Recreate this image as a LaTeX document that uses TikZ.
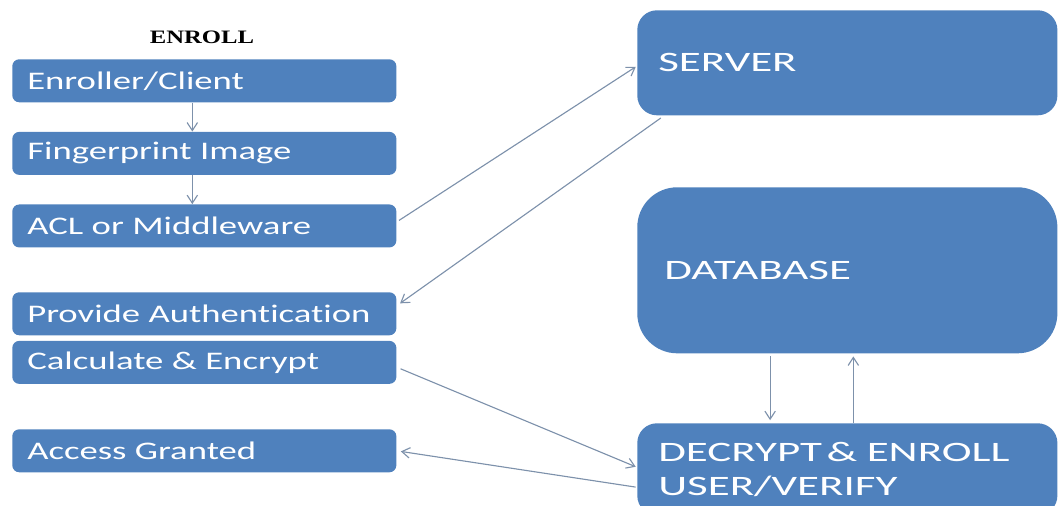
\documentclass[tikz,border=0pt]{standalone}
\usepackage{fontspec}
\setmainfont{Carlito}
\newfontfamily\boxfont[FakeStretch=1.45,RawFeature=-liga]{Carlito}
\newfontfamily\unitfont[FakeStretch=1.6,RawFeature=-liga]{Carlito}
\newfontfamily\titlefont[FakeStretch=1.3]{Liberation Serif}
\usetikzlibrary{arrows.meta,positioning}
\definecolor{Office}{HTML}{4F81BD}
\definecolor{Link}{HTML}{7D91AB}
\tikzset{
 stage/.style={fill=Office,draw=none,rounded corners=5pt,text=white,align=left,inner xsep=0.375cm,inner ysep=0pt,text width=8.85cm,minimum height=1.075cm,font=\boxfont\fontsize{18}{21}\selectfont},
 unit/.style={stage,rounded corners=14pt,inner xsep=0.525cm,text width=9.45cm,font=\unitfont\fontsize{20}{24.2}\selectfont},
 arr/.style={-{Straight Barb[length=2mm,width=2.6mm]},line width=0.8pt,draw=Link}
}
\begin{document}
\begin{tikzpicture}[x=0.025cm,y=-0.025cm,node distance=0.725cm]
\useasboundingbox (0,0) rectangle (1059,506);
\node[font=\titlefont\bfseries\fontsize{13.5}{16}\selectfont] (title) at (202,37) {ENROLL};
% client side
\node[stage,anchor=north west] (client) at (12,59) {Enroller/Client};
\node[stage,below=of client] (image) {Fingerprint Image};
\node[stage,below=of image] (acl) {ACL or Middleware};
\node[stage,anchor=north west] (auth) at (12,292) {Provide Authentication};
\node[stage,below=0.125cm of auth] (calc) {Calculate \& Encrypt};
\node[stage,anchor=north west] (granted) at (12,429) {Access Granted};
% server side
\node[unit,anchor=north west,minimum height=2.625cm] (server) at (637,10) {SERVER};
\node[unit,anchor=north west,minimum height=4.15cm,rounded corners=1cm,inner xsep=0.675cm,text width=9.15cm] (db) at (637,187) {DATABASE};
\node[unit,anchor=north west,minimum height=2.3cm] (verify) at (637,423) {DECRYPT\,\& ENROLL\\USER/VERIFY};
\draw[arr] ([xshift=-0.3cm]client.south) -- ([xshift=-0.3cm]image.north);
\draw[arr] ([xshift=-0.3cm]image.south) -- ([xshift=-0.3cm]acl.north);
\draw[arr,shorten <=2pt,shorten >=1pt] ([yshift=0.1cm]acl.east) -- ([yshift=-0.08cm]server.west);
\draw[arr,shorten <=3pt,shorten >=3pt] ([xshift=0.68cm]server.south west) -- ([yshift=0.2cm]auth.east);
\draw[arr,shorten <=3pt,shorten >=1pt] ([yshift=-0.12cm]calc.east) -- ([yshift=0.05cm]verify.west);
\draw[arr,shorten <=1pt,shorten >=3pt] ([yshift=-0.45cm]verify.west) -- (granted.east);
\draw[arr,shorten <=2pt,shorten >=2pt] ([xshift=-1.93cm]db.south) -- ([xshift=-1.93cm]db.south |- verify.north);
\draw[arr,shorten <=0pt,shorten >=2pt] ([xshift=0.15cm]db.south |- verify.north) -- ([xshift=0.15cm]db.south);
\end{tikzpicture}
\end{document}
